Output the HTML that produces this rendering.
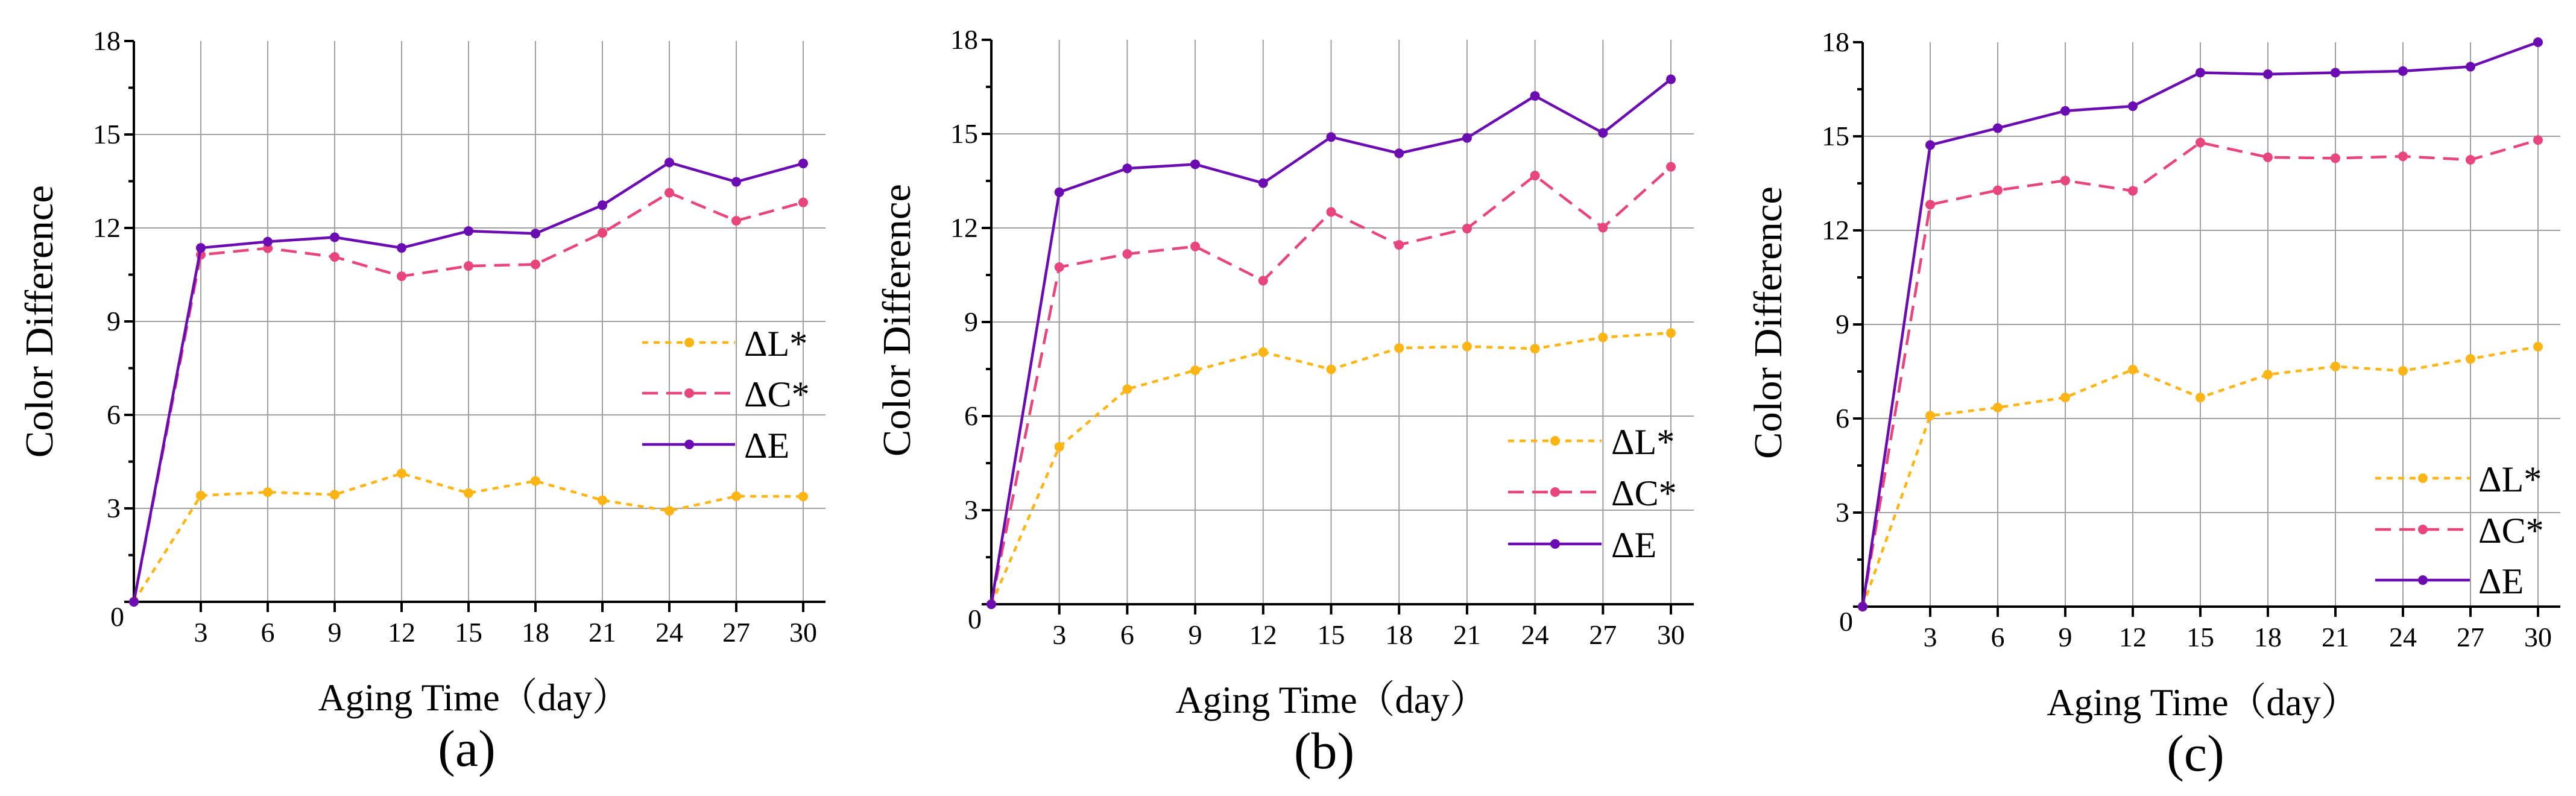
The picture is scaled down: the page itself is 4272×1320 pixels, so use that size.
<!DOCTYPE html>
<html><head><meta charset="utf-8">
<style>
html,body{margin:0;padding:0;background:#fff;}
svg{display:block;}
text{font-family:"Liberation Serif","Noto Serif CJK SC",serif;fill:#000;}
</style></head>
<body>
<svg id="chart" width="4272" height="1320" viewBox="0 0 4272 1320" xmlns="http://www.w3.org/2000/svg"></svg>
<script>
// shared data
const days = [0, 3, 6, 9, 12, 15, 18, 21, 24, 27, 30];
const xTickLabels = [3, 6, 9, 12, 15, 18, 21, 24, 27, 30];
const yTickLabels = [0, 3, 6, 9, 12, 15, 18];
const seriesNames = ["ΔL*", "ΔC*", "ΔE"];
// panel (a)
const aL = [0, 3.41, 3.52, 3.44, 4.12, 3.49, 3.88, 3.26, 2.92, 3.39, 3.38];
const aC = [0, 11.14, 11.35, 11.07, 10.45, 10.78, 10.83, 11.84, 13.13, 12.23, 12.82];
const aE = [0, 11.36, 11.56, 11.70, 11.36, 11.90, 11.82, 12.73, 14.10, 13.48, 14.07];
// panel (b)
const bL = [0, 5.02, 6.86, 7.46, 8.04, 7.49, 8.17, 8.22, 8.15, 8.51, 8.65];
const bC = [0, 10.75, 11.17, 11.41, 10.32, 12.51, 11.46, 11.98, 13.67, 12.01, 13.95];
const bE = [0, 13.14, 13.90, 14.03, 13.43, 14.90, 14.38, 14.87, 16.21, 15.03, 16.74];
// panel (c)
const cL = [0, 6.09, 6.35, 6.67, 7.56, 6.67, 7.40, 7.66, 7.52, 7.90, 8.29];
const cC = [0, 12.82, 13.28, 13.59, 13.26, 14.80, 14.33, 14.30, 14.36, 14.25, 14.88];
const cE = [0, 14.72, 15.26, 15.81, 15.96, 17.03, 16.98, 17.03, 17.08, 17.22, 18.00];

const NS = "http://www.w3.org/2000/svg";
const svg = document.getElementById("chart");
function mk(tag, attrs, parent) {
  const e = document.createElementNS(NS, tag);
  for (const k in attrs) e.setAttribute(k, attrs[k]);
  (parent || svg).appendChild(e);
  return e;
}
const colors = ["#fdb515", "#e8457a", "#6a0cb2"];
const dashes = ["10 9", "26 14", "none"];

const panels = [
  {id: "a", x0: 222, y0: 998, w30: 1110, h18: 930, xEnd: 1369, series: [aL, aC, aE], leg: {lx1: 1065, lx2: 1219, mx: 1143, tx: 1234, ys: [568, 652, 737]}},
  {id: "b", x0: 1644, y0: 1002, w30: 1127, h18: 936, xEnd: 2809, series: [bL, bC, bE], leg: {lx1: 2501, lx2: 2656, mx: 2579, tx: 2672, ys: [731, 816, 902]}},
  {id: "c", x0: 3089, y0: 1006, w30: 1120, h18: 936, xEnd: 4246, series: [cL, cC, cE], leg: {lx1: 3939, lx2: 4096, mx: 4018, tx: 4110, ys: [793, 878, 962]}}
];

panels.forEach(p => {
  const g = mk("g", {});
  
  
  const X = d => p.x0 + d / 30 * p.w30;
  const Y = v => p.y0 - v / 18 * p.h18;
  // grid
  const grid = mk("g", {}, g);
  
  
  xTickLabels.forEach(d => {
    mk("line", {x1: X(d), x2: X(d), y1: Y(0), y2: Y(18), stroke: "#a0a0a0", "stroke-width": 2}, grid);
  });
  yTickLabels.forEach(v => {
    if (v === 0 || v === 18) return;
    mk("line", {x1: X(0), x2: p.xEnd, y1: Y(v), y2: Y(v), stroke: "#a0a0a0", "stroke-width": 2}, grid);
  });
  // axes
  const ax = mk("g", {}, g);
  
  
  mk("line", {x1: X(0), x2: X(0), y1: Y(0) + 2, y2: Y(18), stroke: "#000", "stroke-width": 4}, ax);
  mk("line", {x1: X(0) - 2, x2: p.xEnd, y1: Y(0), y2: Y(0), stroke: "#000", "stroke-width": 4}, ax);
  yTickLabels.forEach(v => {
    mk("line", {x1: X(0) - 16, x2: X(0), y1: Y(v), y2: Y(v), stroke: "#000", "stroke-width": 4}, ax);
    if (v < 18) mk("line", {x1: X(0) - 9, x2: X(0), y1: Y(v + 1.5), y2: Y(v + 1.5), stroke: "#000", "stroke-width": 4}, ax);
    const t = mk("text", {x: v === 0 ? X(0) - 16 : X(0) - 22, y: v === 0 ? Y(0) + 40 : Y(v) + 15, "font-size": 46, "text-anchor": "end"}, ax);
    t.textContent = v;
    
    
  });
  xTickLabels.forEach(d => {
    mk("line", {x1: X(d), x2: X(d), y1: Y(0), y2: Y(0) + 17, stroke: "#000", "stroke-width": 4}, ax);
    const t = mk("text", {x: X(d), y: Y(0) + 66, "font-size": 46, "text-anchor": "middle"}, ax);
    t.textContent = d;
    
    
  });
  // titles
  const yt = mk("text", {x: 0, y: 0, "font-size": 66, "text-anchor": "middle", textLength: 452, lengthAdjust: "spacingAndGlyphs", transform: "translate(" + (p.x0 - 135) + "," + (Y(18) + 465) + ") rotate(-90)"}, g);
  yt.textContent = "Color Difference";
  
  
  const xt = mk("text", {x: p.x0 + 564, y: p.y0 + 180, "font-size": 64, "text-anchor": "middle", textLength: 517, lengthAdjust: "spacingAndGlyphs"}, g);
  xt.textContent = "Aging Time（day）";
  
  
  const pl = mk("text", {x: p.x0 + 552, y: p.y0 + 272, "font-size": 86, "text-anchor": "middle"}, g);
  pl.textContent = "(" + p.id + ")";
  
  
  // series
  p.series.forEach((vals, si) => {
    const sg = mk("g", {}, g);
    
    
    const pts = vals.map((v, i) => X(days[i]) + "," + Y(v)).join(" ");
    const attrs = {points: pts, fill: "none", stroke: colors[si], "stroke-width": 4.5, "stroke-linejoin": "round"};
    if (dashes[si] !== "none") attrs["stroke-dasharray"] = dashes[si];
    const line = mk("polyline", attrs, sg);
    
    
    vals.forEach((v, i) => {
      const c = mk("circle", {cx: X(days[i]), cy: Y(v), r: 8, fill: colors[si]}, sg);
      
      
    });
  });
  // legend
  const lg = mk("g", {}, g);
  
  
  seriesNames.forEach((nm, si) => {
    const y = p.leg.ys[si];
    const eg = mk("g", {}, lg);
    
    
    const la = {x1: p.leg.lx1, x2: p.leg.lx2, y1: y, y2: y, stroke: colors[si], "stroke-width": 4.5};
    if (dashes[si] !== "none") la["stroke-dasharray"] = dashes[si];
    mk("line", la, eg);
    mk("circle", {cx: p.leg.mx, cy: y, r: 8, fill: colors[si]}, eg);
    const t = mk("text", {x: p.leg.tx, y: y + 22, "font-size": 60}, eg);
    t.textContent = nm;
  });
});
</script>
</body></html>
